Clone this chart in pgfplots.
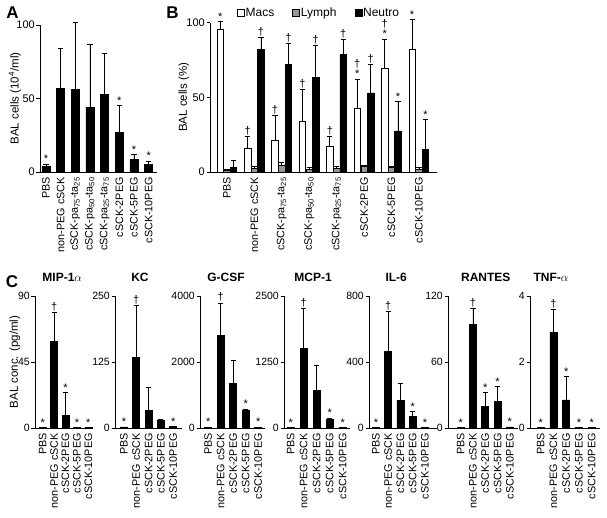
\documentclass[border=0pt]{standalone}
\usepackage{fontspec}
\setmainfont{Liberation Sans}
\usepackage{pgfplots}
\pgfplotsset{compat=1.18}

\newcommand{\fs}[1]{\fontsize{#1}{#1}\selectfont}
\definecolor{lymph}{RGB}{150,150,150}

\pgfplotsset{
  panel/.style={
    scale only axis, clip=false, anchor=south west,
    axis x line*=bottom, axis y line*=left,
    axis line style={line width=0.8pt, -},
    tick align=outside, major tick length=3.5pt,
    ytick style={line width=0.8pt, black},
    xtick style={draw=none},
    ymin=0,
    /pgf/number format/assume math mode=true,
    /pgf/number format/1000 sep={},
    yticklabel style={font=\fs{11}, inner sep=1.5pt},
    xticklabel style={rotate=90, anchor=east, font=\fs{10.8}, inner sep=1.5pt},
  },
  ylab/.style={every axis y label/.style={at={(axis description cs:#1,0.5)}, rotate=90, anchor=center, font=\fs{11.5}}},
  bar/.style={ybar, bar shift=0pt, fill=black, draw=black, line width=0.6pt},
  boxlegend/.style={legend image code/.code={\draw[##1] (0pt,-3.5pt) rectangle (7pt,3.5pt);}},
  ebar/.style={error bars/y dir=plus, error bars/y explicit,
    error bars/error bar style={line width=0.8pt, black},
    error bars/error mark options={rotate=90, black, line width=0.8pt, mark size=2.6pt}},
  sym/.style={draw=none, mark=none, forget plot, nodes near coords={#1},
    every node near coord/.append style={anchor=south, inner sep=1pt, font=\fs{11}, text=black}},
  cpanel/.style={panel, height=132pt, bar width=7pt, xtick={0,...,4},
    xticklabels={PBS, non-PEG cSCK, cSCK-2PEG, cSCK-5PEG, cSCK-10PEG},
    yticklabel style={font=\fs{10.5}},
    title style={font=\bfseries\fs{12}, anchor=base, yshift=8.7pt}},
}

\begin{document}
\begin{tikzpicture}
\path[use as bounding box] (0pt,0pt) rectangle (607pt,517pt);

% panel letters
\node[font=\bfseries\fs{17}] at (12.5pt,504.5pt) {A};
\node[font=\bfseries\fs{17}] at (172.5pt,504.5pt) {B};
\node[font=\bfseries\fs{17}] at (12pt,235pt) {C};

% ---------------- A: total cells
\begin{axis}[panel, at={(40pt,345pt)}, width=117pt, height=147pt,
  xmin=-0.41, xmax=7.57, ymax=100, ytick={0,50,100},
  bar width=8pt, xtick={0,...,7},
  xticklabels={PBS, non-PEG cSCK, cSCK-pa\textsubscript{75}-ta\textsubscript{25},
    cSCK-pa\textsubscript{50}-ta\textsubscript{50}, cSCK-pa\textsubscript{25}-ta\textsubscript{75},
    cSCK-2PEG, cSCK-5PEG, cSCK-10PEG},
  ylabel={BAL cells (10\textsuperscript{4}/ml)}, ylab=-0.214]
\addplot[bar, ebar] coordinates {
  (0,4) +- (0,1.5) (1,57) +- (0,27) (2,56) +- (0,46) (3,44) +- (0,43)
  (4,53) +- (0,28) (5,27) +- (0,18) (6,8.5) +- (0,3.5) (7,5) +- (0,2.5)};
\addplot[sym=*] coordinates {(0,5.5) (5,45) (6,12) (7,7.5)};
\end{axis}

% ---------------- B: cell differentials (Macs at x-0.248, Neutro at x+0.237)
\begin{axis}[panel, at={(210pt,345pt)}, width=227pt, height=149.3pt,
  xmin=-0.62, xmax=7.66, ymax=100, ytick={0,50,100},
  bar width=6.5pt, xtick={0,...,7},
  xticklabels={PBS, non-PEG cSCK, cSCK-pa\textsubscript{75}-ta\textsubscript{25},
    cSCK-pa\textsubscript{50}-ta\textsubscript{50}, cSCK-pa\textsubscript{25}-ta\textsubscript{75},
    cSCK-2PEG, cSCK-5PEG, cSCK-10PEG},
  ylabel={BAL cells (\%)}, ylab=-0.115,
  legend columns=3,
  legend style={draw=none, fill=none, at={(0.114,1.067)}, anchor=west,
    inner sep=1pt, nodes={inner sep=1pt},
    /tikz/every even column/.append style={column sep=15pt}},
]
\addplot[ybar, bar shift=0pt, fill=white, draw=black, line width=0.6pt, boxlegend, ebar] coordinates {
  (-0.248,95.5) +- (0,5.5) (0.752,16) +- (0,8) (1.752,21.5) +- (0,16.5) (2.752,34) +- (0,21)
  (3.752,17) +- (0,7) (4.752,42.7) +- (0,19.6) (5.752,69.4) +- (0,19.6) (6.752,82) +- (0,20)};
\addplot[ybar, bar shift=0pt, fill=lymph, draw=black, line width=0.6pt, boxlegend, ebar] coordinates {
  (0,1) +- (0,0.8) (1,2.5) +- (0,1) (2,4.5) +- (0,2) (3,2) +- (0,0.8)
  (4,2.5) +- (0,1) (5,3.5) +- (0,0.7) (6,3) +- (0,0.8) (7,2) +- (0,1)};
\addplot[ybar, bar shift=0pt, fill=black, draw=black, line width=0.6pt, boxlegend, ebar] coordinates {
  (0.237,3) +- (0,5) (1.237,82) +- (0,8) (2.237,72) +- (0,14) (3.237,63.5) +- (0,21.5)
  (4.237,79) +- (0,9.5) (5.237,53) +- (0,19) (6.237,27.5) +- (0,19.5) (7.237,15.4) +- (0,19.6)};
\legend{\fs{12}Macs\hspace*{2pt}, \fs{12}Lymph\hspace*{2pt}, \fs{12}Neutro}
\addplot[sym=*] coordinates {(-0.248,101) (6.752,102) (4.752,62.3) (5.752,89) (6.237,47) (7.237,35)};
\addplot[sym=†] coordinates {(0.752,24) (1.752,38) (2.752,55) (3.752,24)
  (1.237,90) (2.237,86) (3.237,85) (4.237,88.5) (5.237,72)};
\addplot[sym=†, every node near coord/.append style={yshift=10pt}] coordinates {(4.752,62.3) (5.752,89)};
\end{axis}

% ---------------- C: cytokines
\begin{axis}[cpanel, at={(35pt,89pt)}, width=58pt, xmin=-0.675, xmax=4.41,
  ymax=90, ytick={0,45,90}, title={MIP-1$\alpha$},
  title style={at={(axis description cs:0.47,1)}},
  ylabel={BAL conc. (pg/ml)}, ylab=-0.345]
\addplot[bar, ebar] coordinates {(0,0.5) +- (0,0) (1,59) +- (0,20) (2,8.6) +- (0,15.4) (3,0.3) +- (0,0) (4,0.3) +- (0,0)};
\addplot[sym=*] coordinates {(0,0.5) (2,24) (3,0.3) (4,0.3)};
\addplot[sym=†] coordinates {(1,79)};
\end{axis}

\begin{axis}[cpanel, at={(115pt,89pt)}, width=67pt, xmin=-0.73, xmax=4.72,
  ymax=250, ytick={0,125,250}, title={KC},
  title style={at={(axis description cs:0.373,1)}}]
\addplot[bar, ebar] coordinates {(0,2) +- (0,0) (1,133) +- (0,99) (2,33) +- (0,44) (3,15.5) +- (0,0.5) (4,2.5) +- (0,0.5)};
\addplot[sym=*] coordinates {(0,2) (4,3)};
\addplot[sym=†] coordinates {(1,232)};
\end{axis}

\begin{axis}[cpanel, at={(200pt,89pt)}, width=65pt, xmin=-0.66, xmax=4.54,
  ymax=4000, ytick={0,2000,4000}, title={G-CSF},
  title style={at={(axis description cs:0.4,1)}}]
\addplot[bar, ebar] coordinates {(0,25) +- (0,5) (1,2800) +- (0,990) (2,1340) +- (0,710) (3,546) +- (0,24) (4,20) +- (0,5)};
\addplot[sym=*] coordinates {(0,30) (3,570) (4,25)};
\addplot[sym=†] coordinates {(1,3790)};
\end{axis}

\begin{axis}[cpanel, at={(284pt,89pt)}, width=66pt, xmin=-0.52, xmax=4.56,
  ymax=2500, ytick={0,1250,2500}, title={MCP-1},
  title style={at={(axis description cs:0.44,1)}}]
\addplot[bar, ebar] coordinates {(0,10) +- (0,0) (1,1512) +- (0,758) (2,706) +- (0,484) (3,156) +- (0,34) (4,5) +- (0,0)};
\addplot[sym=*] coordinates {(0,10) (3,190) (4,5)};
\addplot[sym=†] coordinates {(1,2270)};
\end{axis}

\begin{axis}[cpanel, at={(369pt,89pt)}, width=68pt, xmin=-0.57, xmax=4.98,
  ymax=800, ytick={0,400,800}, title={IL-6},
  title style={at={(axis description cs:0.4,1)}}]
\addplot[bar, ebar] coordinates {(0,3) +- (0,0) (1,465) +- (0,243) (2,166) +- (0,104) (3,70) +- (0,30) (4,2) +- (0,0)};
\addplot[sym=*] coordinates {(0,3) (3,100) (4,2)};
\addplot[sym=†] coordinates {(1,708)};
\end{axis}

\begin{axis}[cpanel, at={(448pt,89pt)}, width=70pt, xmin=-1.03, xmax=4.66,
  ymax=120, ytick={0,60,120}, title={RANTES},
  title style={at={(axis description cs:0.54,1)}}]
\addplot[bar, ebar] coordinates {(0,0.6) +- (0,0) (1,94) +- (0,14.6) (2,20) +- (0,12) (3,24) +- (0,14) (4,1) +- (0,0)};
\addplot[sym=*] coordinates {(0,0.6) (2,32) (3,38) (4,1)};
\addplot[sym=†] coordinates {(1,108.6)};
\end{axis}

\begin{axis}[cpanel, at={(530pt,89pt)}, width=70pt, xmin=-0.84, xmax=4.65,
  ymax=4, ytick={0,2,4}, title={TNF-$\alpha$},
  title style={at={(axis description cs:0.3,1)}}]
\addplot[bar, ebar] coordinates {(0,0.01) +- (0,0) (1,2.9) +- (0,0.7) (2,0.85) +- (0,0.7) (3,0.01) +- (0,0) (4,0.01) +- (0,0)};
\addplot[sym=*] coordinates {(0,0.01) (2,1.55) (3,0.01) (4,0.01)};
\addplot[sym=†] coordinates {(1,3.6)};
\end{axis}
\end{tikzpicture}
\end{document}
